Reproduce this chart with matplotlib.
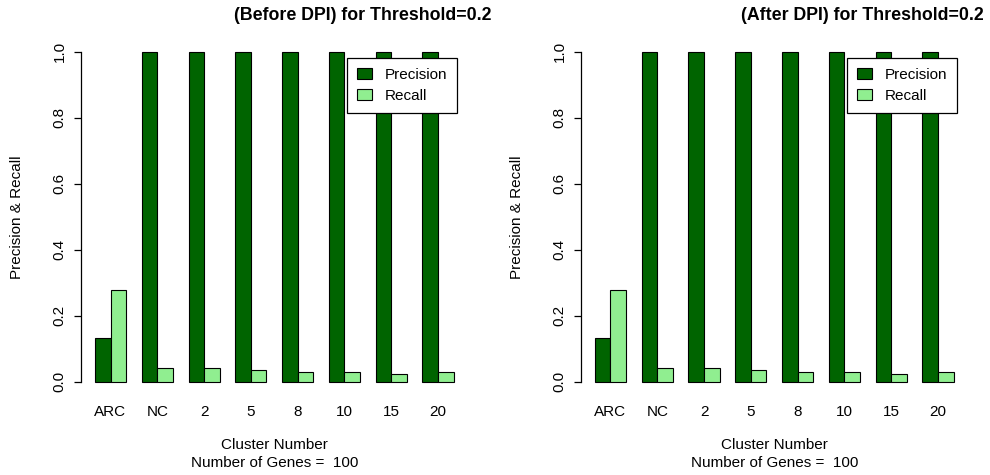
import matplotlib
matplotlib.use("Agg")
import matplotlib.pyplot as plt
from matplotlib.patches import Patch

plt.rcParams['font.family'] = ['Liberation Sans', 'DejaVu Sans']

clusters = ["ARC", "NC", "2", "5", "8", "10", "15", "20"]
before_precision = [0.132, 1.0, 1.0, 1.0, 1.0, 1.0, 1.0, 1.0]
before_recall = [0.278, 0.042, 0.042, 0.035, 0.031, 0.031, 0.023, 0.031]
after_precision = [0.132, 1.0, 1.0, 1.0, 1.0, 1.0, 1.0, 1.0]
after_recall = [0.278, 0.042, 0.042, 0.035, 0.031, 0.031, 0.023, 0.031]
n_genes = 100
threshold = 0.2

DARK = "#006400"
LIGHT = "#90ee90"


def draw_panel(ax, title, precision, recall):
    n = len(clusters)
    # R barplot(beside=TRUE) layout: bars of width 1, one unit gap between groups
    left_p = [1 + 3 * i for i in range(n)]
    left_r = [2 + 3 * i for i in range(n)]
    ax.bar(left_p, precision, width=1, align='edge', color=DARK,
           edgecolor='black', linewidth=0.8)
    ax.bar(left_r, recall, width=1, align='edge', color=LIGHT,
           edgecolor='black', linewidth=0.8)

    ax.set_xlim(0.08, 24.92)
    ax.set_ylim(-0.04, 1.04)
    for s in ('top', 'right', 'bottom'):
        ax.spines[s].set_visible(False)
    ax.spines['left'].set_bounds(0, 1)
    ax.spines['left'].set_linewidth(0.9)

    ax.set_yticks([0, 0.2, 0.4, 0.6, 0.8, 1.0])
    ax.set_yticklabels(["0.0", "0.2", "0.4", "0.6", "0.8", "1.0"],
                       rotation=90, va='center')
    ax.tick_params(axis='y', length=5, width=0.9, pad=5, labelsize=11)
    ax.set_xticks([2 + 3 * i for i in range(n)])
    ax.set_xticklabels(clusters)
    ax.tick_params(axis='x', length=0, pad=7, labelsize=11)

    ax.set_ylabel("Precision & Recall", fontsize=11)
    ax.yaxis.set_label_coords(-0.145, 0.5)

    ax.text(0.5, -0.14, "Cluster Number", transform=ax.transAxes,
            ha='center', va='center', fontsize=11)
    ax.text(0.5, -0.19, "Number of Genes =  %d" % n_genes,
            transform=ax.transAxes, ha='center', va='center', fontsize=11)
    ax.text(0.728, 1.065, title, transform=ax.transAxes, ha='center',
            va='center', fontsize=12.8, fontweight='bold')

    handles = [Patch(facecolor=DARK, edgecolor='black', linewidth=0.8),
               Patch(facecolor=LIGHT, edgecolor='black', linewidth=0.8)]
    leg = ax.legend(handles, ["Precision", "Recall"], loc='upper right',
                    bbox_to_anchor=(0.971, 0.945), borderaxespad=0,
                    fancybox=False, framealpha=1, edgecolor='black',
                    fontsize=11, handlelength=1.0, handleheight=0.7,
                    labelspacing=0.45, borderpad=0.65, handletextpad=0.8)
    leg.get_frame().set_linewidth(0.9)


fig = plt.figure(figsize=(9.9, 4.75), dpi=100)
ax1 = fig.add_axes([0.0814, 0.1684, 0.3913, 0.7505])
ax2 = fig.add_axes([0.5864, 0.1684, 0.3913, 0.7505])

draw_panel(ax1, "(Before DPI) for Threshold=%g" % threshold,
           before_precision, before_recall)
draw_panel(ax2, "(After DPI) for Threshold=%g" % threshold,
           after_precision, after_recall)

fig.savefig("out.png", dpi=100)
